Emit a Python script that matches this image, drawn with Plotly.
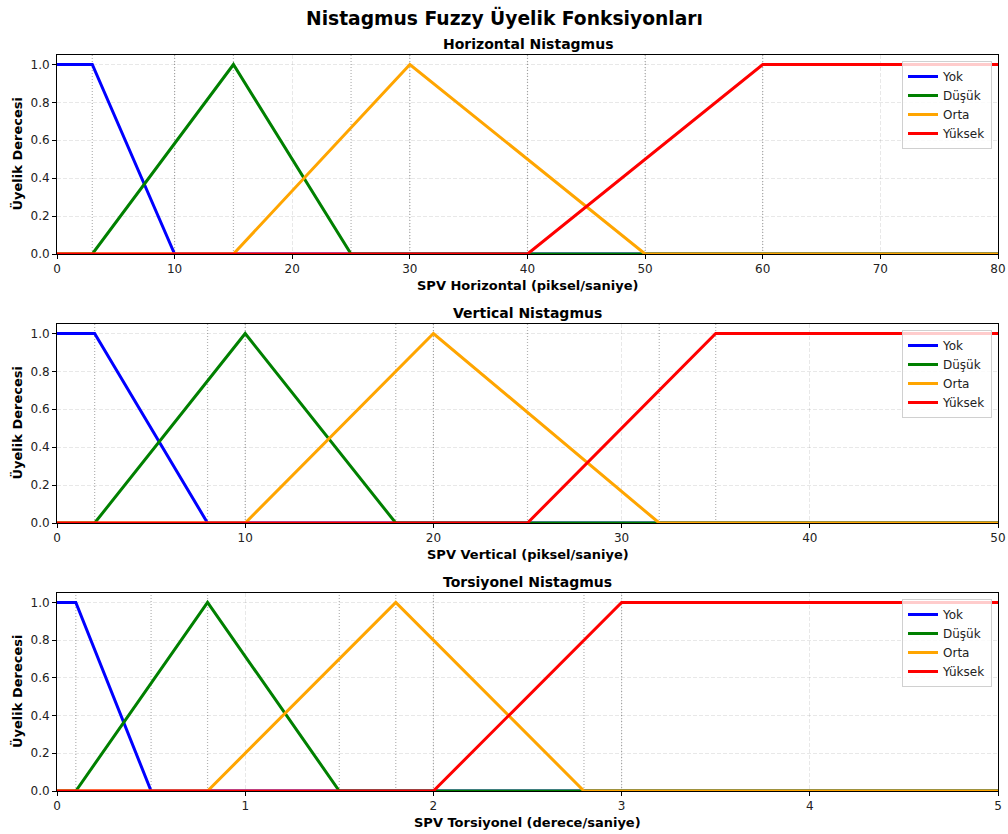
import plotly.graph_objects as go

# Fuzzy set labels and line colours
categories = ["Yok", "Düşük", "Orta", "Yüksek"]
colors = ["blue", "green", "orange", "red"]

# Horizontal nystagmus (piksel/saniye): breakpoints (x) and membership (y)
h_yok_x, h_yok_y = [0, 3, 10, 80], [1, 1, 0, 0]
h_dusuk_x, h_dusuk_y = [0, 3, 15, 25, 80], [0, 0, 1, 0, 0]
h_orta_x, h_orta_y = [0, 15, 30, 50, 80], [0, 0, 1, 0, 0]
h_yuksek_x, h_yuksek_y = [0, 40, 60, 80], [0, 0, 1, 1]
h_marks = [3, 10, 15, 25, 30, 40, 50, 60]

# Vertical nystagmus (piksel/saniye)
v_yok_x, v_yok_y = [0, 2, 8, 50], [1, 1, 0, 0]
v_dusuk_x, v_dusuk_y = [0, 2, 10, 18, 50], [0, 0, 1, 0, 0]
v_orta_x, v_orta_y = [0, 10, 20, 32, 50], [0, 0, 1, 0, 0]
v_yuksek_x, v_yuksek_y = [0, 25, 35, 50], [0, 0, 1, 1]
v_marks = [2, 8, 10, 18, 20, 25, 32, 35]

# Torsional nystagmus (derece/saniye)
t_yok_x, t_yok_y = [0, 0.1, 0.5, 5], [1, 1, 0, 0]
t_dusuk_x, t_dusuk_y = [0, 0.1, 0.8, 1.5, 5], [0, 0, 1, 0, 0]
t_orta_x, t_orta_y = [0, 0.8, 1.8, 2.8, 5], [0, 0, 1, 0, 0]
t_yuksek_x, t_yuksek_y = [0, 2, 3, 5], [0, 0, 1, 1]
t_marks = [0.1, 0.5, 0.8, 1.5, 1.8, 2.0, 2.8, 3.0]

panels = [
    {
        "title": "Horizontal Nistagmus",
        "xlabel": "SPV Horizontal (piksel/saniye)",
        "series": [(h_yok_x, h_yok_y), (h_dusuk_x, h_dusuk_y),
                   (h_orta_x, h_orta_y), (h_yuksek_x, h_yuksek_y)],
        "marks": h_marks, "xmax": 80, "dtick": 10,
    },
    {
        "title": "Vertical Nistagmus",
        "xlabel": "SPV Vertical (piksel/saniye)",
        "series": [(v_yok_x, v_yok_y), (v_dusuk_x, v_dusuk_y),
                   (v_orta_x, v_orta_y), (v_yuksek_x, v_yuksek_y)],
        "marks": v_marks, "xmax": 50, "dtick": 10,
    },
    {
        "title": "Torsiyonel Nistagmus",
        "xlabel": "SPV Torsiyonel (derece/saniye)",
        "series": [(t_yok_x, t_yok_y), (t_dusuk_x, t_dusuk_y),
                   (t_orta_x, t_orta_y), (t_yuksek_x, t_yuksek_y)],
        "marks": t_marks, "xmax": 5, "dtick": 1,
    },
]

W, H = 1008, 834
FONT = "DejaVu Sans"
x_left, x_right = 57, 998
# top and bottom pixel rows of each plotting area
rows = [(55, 254), (324, 523), (593, 791)]

fig = go.Figure()
layout = dict(
    template="none",
    width=W, height=H, autosize=False,
    margin=dict(l=0, r=0, t=0, b=0, pad=0),
    paper_bgcolor="white", plot_bgcolor="white",
    font=dict(family=FONT, size=12, color="#222"),
    shapes=[], annotations=[],
)

for i, p in enumerate(panels):
    n = "" if i == 0 else str(i + 1)
    xa, ya = "x" + n, "y" + n
    leg = "legend" + n
    top, bot = rows[i]

    for (xs, ys), name, c in zip(p["series"], categories, colors):
        fig.add_trace(go.Scatter(
            x=xs, y=ys, mode="lines", name=name,
            line=dict(color=c, width=3),
            xaxis=xa, yaxis=ya, legend=leg,
        ))

    for m in p["marks"]:
        layout["shapes"].append(dict(
            type="line", xref=xa, yref=ya + " domain",
            x0=m, x1=m, y0=0, y1=1, layer="below",
            line=dict(color="rgba(128,128,128,0.6)", width=1.2,
                      dash="1px,2px"),
        ))

    axis_common = dict(
        automargin=False,
        showline=True, mirror=True, linecolor="black", linewidth=1,
        ticks="outside", ticklen=4, tickcolor="black", tickwidth=1,
        showgrid=True, gridcolor="rgba(0,0,0,0.09)", griddash="4px,2px",
        gridwidth=1, zeroline=False,
        tickfont=dict(family=FONT, size=12, color="#222"),
    )
    layout["xaxis" + n] = dict(
        axis_common,
        domain=[x_left / W, x_right / W], anchor=ya,
        range=[0, p["xmax"]], dtick=p["dtick"], tick0=0,
    )
    layout["yaxis" + n] = dict(
        axis_common,
        domain=[1 - bot / H, 1 - top / H], anchor=xa,
        range=[0, 1.05], tickvals=[0, 0.2, 0.4, 0.6, 0.8, 1.0],
        tickformat=".1f",
    )
    layout[leg] = dict(
        x=992 / W, xanchor="right", y=1 - (top + 6) / H, yanchor="top",
        bgcolor="rgba(255,255,255,0.8)", bordercolor="#d0d0d0",
        borderwidth=1, font=dict(family=FONT, size=12, color="#222"),
        tracegroupgap=0, itemwidth=30,
    )

    # panel title
    layout["annotations"].append(dict(
        text="<b>" + p["title"] + "</b>", xref="paper", yref="paper",
        x=(x_left + x_right) / 2 / W, y=1 - (top - 11) / H,
        xanchor="center", yanchor="middle", showarrow=False,
        font=dict(family=FONT, size=14, color="black"),
    ))
    # x axis label
    layout["annotations"].append(dict(
        text="<b>" + p["xlabel"] + "</b>", xref="paper", yref="paper",
        x=(x_left + x_right) / 2 / W, y=1 - (bot + 31) / H,
        xanchor="center", yanchor="middle", showarrow=False,
        font=dict(family=FONT, size=13, color="black"),
    ))
    # y axis label
    layout["annotations"].append(dict(
        text="<b>Üyelik Derecesi</b>", xref="paper", yref="paper",
        x=17 / W, y=1 - (top + bot) / 2 / H, textangle=-90,
        xanchor="center", yanchor="middle", showarrow=False,
        font=dict(family=FONT, size=13, color="black"),
    ))

layout["annotations"].append(dict(
    text="<b>Nistagmus Fuzzy Üyelik Fonksiyonları</b>", xref="paper",
    yref="paper", x=0.5, y=1 - 18 / H,
    xanchor="center", yanchor="middle", showarrow=False,
    font=dict(family=FONT, size=18.7, color="black"),
))

fig.update_layout(**layout)
fig.write_html("out.html")
